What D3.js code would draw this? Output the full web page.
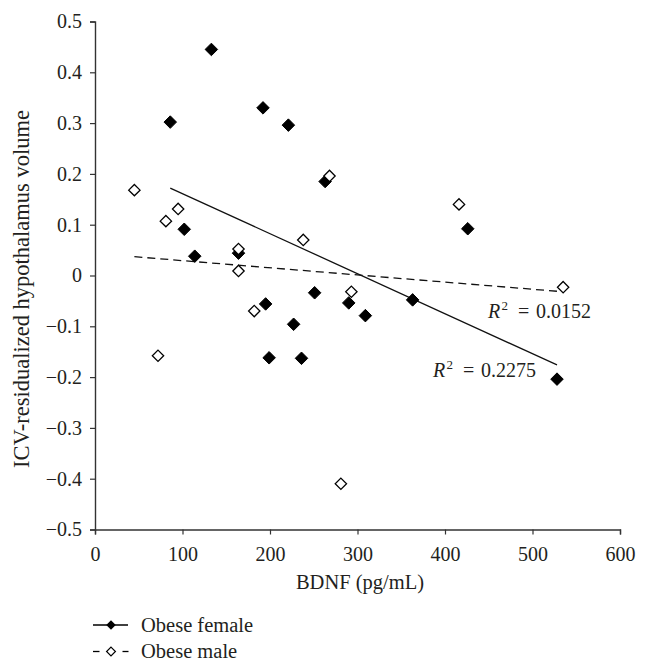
<!DOCTYPE html>
<html>
<head>
<meta charset="utf-8">
<script src="https://cdn.jsdelivr.net/npm/d3@7"></script>
<style>
  body { margin: 0; background: #fff; }
  svg text { font-family: "Liberation Serif", "DejaVu Serif", serif; fill: #231f20; }
</style>
</head>
<body>
<svg id="svg" width="645" height="661"></svg>
<script>
// dados
const femaleBDNF = [86, 102, 114, 133, 164, 192, 195, 199, 221, 227, 236, 251, 263, 290, 309, 363, 426, 528];
const femaleVol  = [0.302, 0.091, 0.038, 0.445, 0.044, 0.330, -0.056, -0.162, 0.296, -0.096, -0.163, -0.034, 0.185, -0.054, -0.079, -0.048, 0.092, -0.204];
const maleBDNF = [45, 72, 81, 95, 164, 164, 182, 238, 268, 281, 293, 416, 535];
const maleVol  = [0.168, -0.158, 0.107, 0.131, 0.052, 0.009, -0.070, 0.070, 0.196, -0.410, -0.032, 0.140, -0.023];

// linhas de tendência (extremos)
const femaleTrendX = [86, 528];
const femaleTrendY = [0.172, -0.176];
const maleTrendX = [45, 528];
const maleTrendY = [0.037, -0.031];

const xTicks = [0, 100, 200, 300, 400, 500, 600];
const yTicks = [-0.5, -0.4, -0.3, -0.2, -0.1, 0, 0.1, 0.2, 0.3, 0.4, 0.5];

const svg = d3.select("#svg");

const x = d3.scaleLinear().domain([0, 600]).range([95, 620]);
const y = d3.scaleLinear().domain([-0.5, 0.5]).range([529.5, 21.5]);

const fmt = v => v === 0 ? "0" : d3.format(".1f")(v).replace("-", "\u2212");

// eixos
const xAxis = svg.append("g")
  .attr("transform", `translate(0,${y(-0.5)})`)
  .call(d3.axisBottom(x).tickValues(xTicks).tickSize(5).tickPadding(12).tickFormat(d3.format("d")));
const yAxis = svg.append("g")
  .attr("transform", `translate(${x(0)},0)`)
  .call(d3.axisLeft(y).tickValues(yTicks).tickSize(5).tickPadding(8).tickFormat(fmt));

[xAxis, yAxis].forEach(g => {
  g.select(".domain").attr("stroke", "#333").attr("stroke-width", 1.4);
  g.selectAll(".tick line").attr("stroke", "#333").attr("stroke-width", 1.2);
  g.selectAll(".tick text")
    .attr("font-family", "Liberation Serif, serif")
    .attr("font-size", 20)
    .attr("fill", "#231f20");
});

// títulos dos eixos
svg.append("text")
  .attr("x", 360)
  .attr("y", 589)
  .attr("text-anchor", "middle")
  .attr("font-size", 20.5)
  .text("BDNF (pg/mL)");

svg.append("text")
  .attr("transform", `translate(29,289) rotate(-90)`)
  .attr("text-anchor", "middle")
  .attr("font-size", 22.5)
  .text("ICV-residualized hypothalamus volume");

// linhas de tendência
const line = d3.line().x(d => x(d[0])).y(d => y(d[1]));

svg.append("path")
  .datum(d3.zip(maleTrendX, maleTrendY))
  .attr("d", line)
  .attr("fill", "none")
  .attr("stroke", "#111")
  .attr("stroke-width", 1.3)
  .attr("stroke-dasharray", "8,5");

svg.append("path")
  .datum(d3.zip(femaleTrendX, femaleTrendY))
  .attr("d", line)
  .attr("fill", "none")
  .attr("stroke", "#111")
  .attr("stroke-width", 1.3);

// pontos
const diamond = d3.symbol().type(d3.symbolDiamond2);

svg.selectAll("path.female")
  .data(d3.zip(femaleBDNF, femaleVol))
  .enter()
  .append("path")
  .attr("class", "female")
  .attr("transform", d => `translate(${x(d[0])},${y(d[1])})`)
  .attr("d", diamond.size(100)())
  .attr("fill", "#000")
  .attr("stroke", "#000")
  .attr("stroke-width", 1);

svg.selectAll("path.male")
  .data(d3.zip(maleBDNF, maleVol))
  .enter()
  .append("path")
  .attr("class", "male")
  .attr("transform", d => `translate(${x(d[0])},${y(d[1])})`)
  .attr("d", diamond.size(82)())
  .attr("fill", "#fff")
  .attr("stroke", "#000")
  .attr("stroke-width", 1.3);

// R²
function r2Label(px, py, val) {
  svg.append("text").attr("x", px).attr("y", py)
    .attr("font-size", 20).attr("font-style", "italic").text("R");
  svg.append("text").attr("x", px + 13.5).attr("y", py - 8)
    .attr("font-size", 13).text("2");
  svg.append("text").attr("x", px + 30).attr("y", py)
    .attr("font-size", 20).text("=");
  svg.append("text").attr("x", px + 48).attr("y", py)
    .attr("font-size", 20).text(val);
}
r2Label(488, 318, "0.0152");
r2Label(433, 377, "0.2275");

// legenda
const legend = svg.append("g");
legend.append("line")
  .attr("x1", 93).attr("x2", 128).attr("y1", 625).attr("y2", 625)
  .attr("stroke", "#000").attr("stroke-width", 1.3);
legend.append("path")
  .attr("transform", "translate(111,625)")
  .attr("d", diamond.size(58)())
  .attr("fill", "#000");
legend.append("text")
  .attr("x", 141).attr("y", 631.5)
  .attr("font-size", 20.5)
  .text("Obese female");

legend.append("line")
  .attr("x1", 93).attr("x2", 99.5).attr("y1", 651.5).attr("y2", 651.5)
  .attr("stroke", "#000").attr("stroke-width", 1.3);
legend.append("line")
  .attr("x1", 122.5).attr("x2", 128.5).attr("y1", 651.5).attr("y2", 651.5)
  .attr("stroke", "#000").attr("stroke-width", 1.3);
legend.append("path")
  .attr("transform", "translate(111,651.5)")
  .attr("d", diamond.size(50)())
  .attr("fill", "#fff")
  .attr("stroke", "#000")
  .attr("stroke-width", 1.2);
legend.append("text")
  .attr("x", 141).attr("y", 658)
  .attr("font-size", 20.5)
  .text("Obese male");
</script>
</body>
</html>
